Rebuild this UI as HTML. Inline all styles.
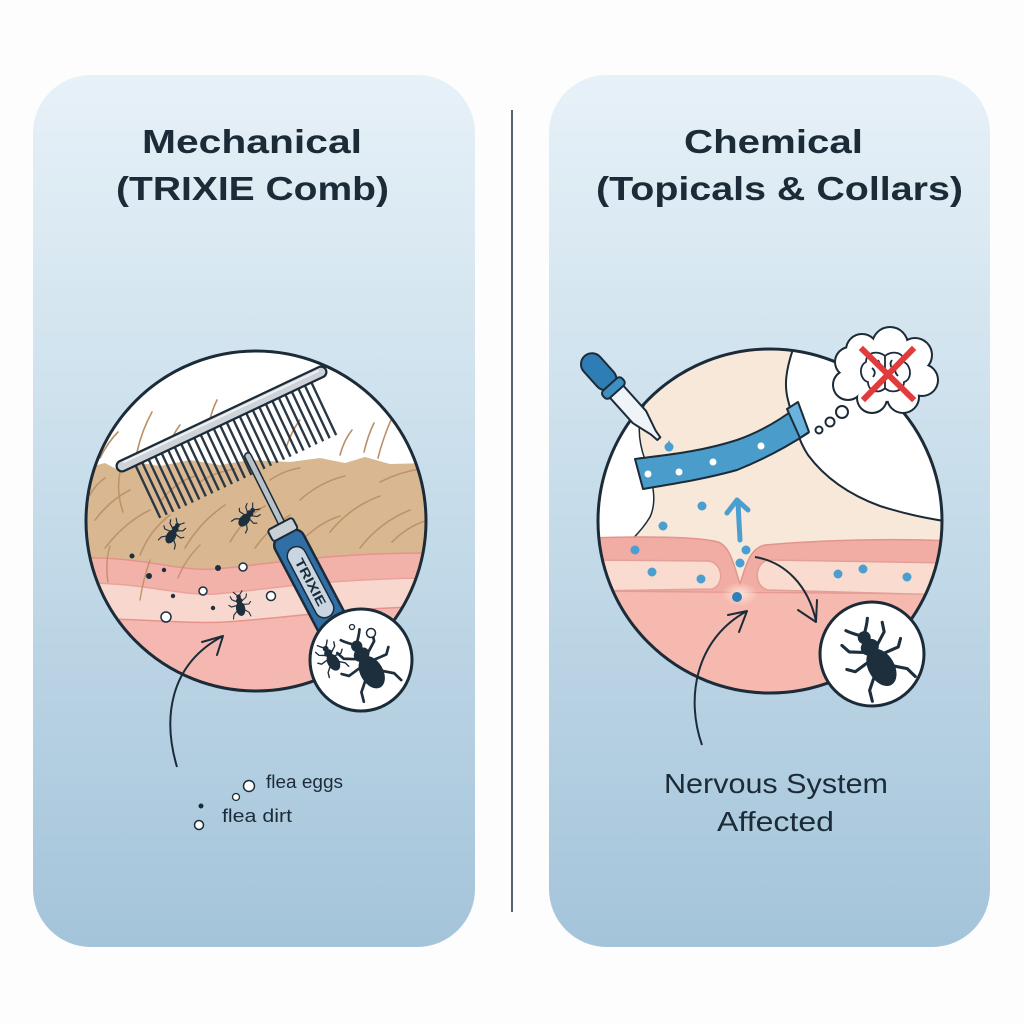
<!DOCTYPE html>
<html><head><meta charset="utf-8"><style>
html,body{margin:0;padding:0;background:#fff;}
svg{display:block;}
text{font-family:"Liberation Sans",sans-serif;fill:#1c2b38;}
</style></head><body>
<svg width="1024" height="1024" viewBox="0 0 1024 1024" xmlns="http://www.w3.org/2000/svg">
<defs>
<linearGradient id="pg" x1="0" y1="0" x2="0" y2="1">
<stop offset="0" stop-color="#e7f1f8"/>
<stop offset="0.45" stop-color="#c9deeb"/>
<stop offset="1" stop-color="#a4c4da"/>
</linearGradient>
<radialGradient id="glow" cx="0.5" cy="0.5" r="0.5">
<stop offset="0" stop-color="#fde3da"/>
<stop offset="1" stop-color="#fde3da" stop-opacity="0"/>
</radialGradient>
<clipPath id="cL"><circle cx="256" cy="521" r="170"/></clipPath>
<clipPath id="cR"><circle cx="770" cy="521" r="172"/></clipPath>
<g id="flea">
<ellipse cx="0" cy="3.5" rx="4.2" ry="6.5" fill="#1d2e3d"/>
<ellipse cx="0" cy="-4" rx="3" ry="2.6" fill="#1d2e3d"/>
<circle cx="0" cy="-7.6" r="2.1" fill="#1d2e3d"/>
<path d="M-2.5,-3.5 L-6.5,-6 L-7.5,-9 M2.5,-3.5 L6.5,-6 L7.5,-9 M-3.5,0 L-8,0.5 L-10,-1.5 M3.5,0 L8,0.5 L10,-1.5 M-3,4.5 L-7,8 L-8,11.5 M3,4.5 L7,8 L8,11.5 M-1,-9 Q-3,-11 -4,-12.5 M1,-9 Q3,-11 4,-12.5" fill="none" stroke="#1d2e3d" stroke-width="1" stroke-linecap="round" stroke-linejoin="round"/>
</g>
</defs>

<rect width="1024" height="1024" fill="#fdfdfd"/>
<rect x="33" y="75" width="442" height="872" rx="58" fill="url(#pg)"/>
<rect x="549" y="75" width="441" height="872" rx="58" fill="url(#pg)"/>
<line x1="512" y1="110" x2="512" y2="912" stroke="#2c3e50" stroke-width="1.6"/>

<!-- Titles -->
<text x="142" y="153" font-size="33" font-weight="bold" textLength="220" lengthAdjust="spacingAndGlyphs">Mechanical</text>
<text x="116" y="200" font-size="33" font-weight="bold" textLength="273" lengthAdjust="spacingAndGlyphs">(TRIXIE Comb)</text>
<text x="684" y="153" font-size="33" font-weight="bold" textLength="179" lengthAdjust="spacingAndGlyphs">Chemical</text>
<text x="596" y="200" font-size="33" font-weight="bold" textLength="367" lengthAdjust="spacingAndGlyphs">(Topicals &amp; Collars)</text>

<!-- ================= LEFT CIRCLE ================= -->
<g clip-path="url(#cL)">
<rect x="80" y="345" width="360" height="360" fill="#ffffff"/>
<g fill="none" stroke="#bb8e66" stroke-width="1.6" stroke-linecap="round">
<path d="M137,452 Q142,430 152,412"/>
<path d="M208,428 Q211,412 217,400"/>
<path d="M364,452 Q368,435 374,423"/>
<path d="M378,458 Q383,438 391,420"/>
<path d="M100,458 Q108,442 118,432"/>
<path d="M286,448 Q292,430 300,420"/>
<path d="M340,455 Q344,440 352,430"/>
<path d="M168,450 Q172,435 180,425"/>
</g>
<path d="M80,468 L85,468 L105,463 L118,470 L135,462 L160,466 L190,460 L220,465 L250,460 L290,462 L320,458 L345,463 L365,457 L390,464 L430,463 L440,463 L440,575 L80,575 Z" fill="#d9b891"/>
<g fill="none" stroke="#bb8e66" stroke-width="1.6" stroke-linecap="round" opacity="0.9">
<path d="M95,520 Q110,500 130,490"/>
<path d="M105,548 Q125,522 150,510"/>
<path d="M140,555 Q150,530 170,515"/>
<path d="M185,548 Q200,522 225,505"/>
<path d="M200,482 Q215,472 235,469"/>
<path d="M255,548 Q270,527 290,515"/>
<path d="M300,500 Q320,482 345,476"/>
<path d="M330,532 Q350,507 380,496"/>
<path d="M360,548 Q380,522 410,510"/>
<path d="M380,482 Q400,472 420,469"/>
<path d="M120,472 Q116,492 123,512"/>
<path d="M160,502 Q175,482 195,476"/>
<path d="M230,542 Q245,517 265,506"/>
<path d="M300,542 Q320,522 340,516"/>
<path d="M392,542 Q407,527 425,521"/>
<path d="M270,480 Q285,470 300,468"/>
<path d="M90,495 Q95,485 105,478"/>
</g>
<path d="M80,558 C140,556 180,572 215,569 C260,566 320,552 440,553 L440,710 L80,710 Z" fill="#f2b1a9" stroke="#e6938d" stroke-width="1.5"/>
<path d="M80,583 C140,582 180,596 215,594 C260,591 320,578 440,578 L440,710 L80,710 Z" fill="#f8d7ce" stroke="#e9a39c" stroke-width="1.5"/>
<path d="M80,618 C140,619 190,624 225,622 C280,619 340,608 440,606 L440,710 L80,710 Z" fill="#f5b8b0" stroke="#e6938d" stroke-width="1.5"/>
<g fill="none" stroke="#bb8e66" stroke-width="1.5" stroke-linecap="round" opacity="0.85">
<path d="M140,600 Q143,580 150,560"/>
<path d="M178,578 Q185,560 200,545"/>
<path d="M108,582 Q105,562 110,546"/>
</g>
<g fill="#1d2e3d">
<circle cx="132" cy="556" r="2.5"/>
<circle cx="149" cy="576" r="3"/>
<circle cx="164" cy="570" r="2.2"/>
<circle cx="218" cy="568" r="3"/>
<circle cx="173" cy="596" r="2.2"/>
<circle cx="213" cy="608" r="2.2"/>
</g>
<g fill="#fff" stroke="#1d2e3d" stroke-width="1.5">
<circle cx="243" cy="567" r="4"/>
<circle cx="203" cy="591" r="4"/>
<circle cx="271" cy="596" r="4.5"/>
<circle cx="166" cy="617" r="5"/>
</g>
<use href="#flea" transform="translate(173,533) rotate(30) scale(1.15)"/>
<use href="#flea" transform="translate(247,517) rotate(40) scale(1.15)"/>
<use href="#flea" transform="translate(240,605) rotate(-10) scale(1.1)"/>
<line x1="146.8" y1="492.1" x2="328.9" y2="406.5" stroke="#2a3845" stroke-width="58" stroke-dasharray="2.4 4.8"/>
<line x1="122" y1="466" x2="321" y2="372" stroke="#1c2b38" stroke-width="13" stroke-linecap="round"/>
<line x1="122" y1="466" x2="321" y2="372" stroke="#cdd3d8" stroke-width="8.5" stroke-linecap="round"/>
<line x1="124" y1="462" x2="318" y2="371" stroke="#eef1f3" stroke-width="2" stroke-linecap="round"/>
<line x1="248" y1="456" x2="284" y2="528" stroke="#1c2b38" stroke-width="8" stroke-linecap="round"/>
<line x1="248" y1="456" x2="284" y2="528" stroke="#b9c2c9" stroke-width="5" stroke-linecap="round"/>
</g>
<circle cx="256" cy="521" r="170" fill="none" stroke="#1c2b38" stroke-width="3"/>

<g transform="translate(283,530) rotate(-27.8)">
<rect x="-16" y="4" width="32" height="118" rx="10" fill="#2f6fa6" stroke="#1c2b38" stroke-width="2.5"/>
<rect x="-14" y="-7" width="28" height="13" rx="3" fill="#c9d0d6" stroke="#1c2b38" stroke-width="2"/>
<rect x="-9.5" y="20" width="19" height="78" rx="9.5" fill="#c9d6e2" stroke="#1c2b38" stroke-width="1.5"/>
<text x="0" y="0" font-size="13" font-weight="bold" text-anchor="middle" transform="translate(-4.5,59) rotate(90)" textLength="52" lengthAdjust="spacingAndGlyphs">TRIXIE</text>
</g>

<circle cx="361" cy="660" r="51" fill="#fff" stroke="#1c2b38" stroke-width="3"/>
<use href="#flea" transform="translate(367,664) rotate(-30) scale(2.7)"/>
<use href="#flea" transform="translate(331,658) rotate(-30) scale(1.4)"/>
<circle cx="371" cy="633" r="4.5" fill="#fff" stroke="#1c2b38" stroke-width="1.5"/>
<circle cx="352" cy="627" r="2.5" fill="#fff" stroke="#1c2b38" stroke-width="1.3"/>

<path d="M177,767 C163,720 168,665 223,636" fill="none" stroke="#1c2b38" stroke-width="2"/>
<polyline points="202,642 223,636 217,655" fill="none" stroke="#1c2b38" stroke-width="2" stroke-linejoin="round" stroke-linecap="round"/>

<circle cx="249" cy="786" r="5.5" fill="#fff" stroke="#1c2b38" stroke-width="1.5"/>
<circle cx="236" cy="797" r="3.5" fill="#fff" stroke="#1c2b38" stroke-width="1.3"/>
<circle cx="201" cy="806" r="2.5" fill="#1c2b38"/>
<circle cx="199" cy="825" r="4.5" fill="#fff" stroke="#1c2b38" stroke-width="1.5"/>
<text x="266" y="788" font-size="18" textLength="77" lengthAdjust="spacingAndGlyphs">flea eggs</text>
<text x="222" y="822" font-size="18" textLength="70" lengthAdjust="spacingAndGlyphs">flea dirt</text>

<!-- ================= RIGHT CIRCLE ================= -->
<g clip-path="url(#cR)">
<rect x="595" y="345" width="352" height="352" fill="#f8e8d9"/>
<path d="M580,399 L647,399 C636,420 638,440 645,460 C652,480 658,500 650,517 C644,527 638,533 630,542 L580,542 Z" fill="#fff" stroke="#1c2b38" stroke-width="1.5"/>
<path d="M793,340 L793,349 C786,370 784,385 788,400 C793,420 798,440 808,455 C825,478 850,495 880,506 C905,514 925,518 950,522 L950,340 Z" fill="#fff" stroke="#1c2b38" stroke-width="2"/>
<path d="M590,538 C650,536 700,537 718,542 C730,546 734,565 740,584 C746,565 750,548 765,545 C820,540 900,538 950,541 L950,720 L590,720 Z" fill="#f1ada3" stroke="#e2958c" stroke-width="1.5"/>
<rect x="590" y="591" width="360" height="130" fill="#f5b9af"/>
<line x1="590" y1="591" x2="950" y2="594" stroke="#e59b93" stroke-width="1.5"/>
<ellipse cx="740" cy="594" rx="18" ry="12" fill="url(#glow)"/>
<path d="M590,560 L708,561 C722,562 726,584 712,589 L590,591 Z" fill="#f9dccf" stroke="#e3a098" stroke-width="1.5"/>
<path d="M950,563 L770,560 C755,560 752,586 768,590 L950,595 Z" fill="#f9dccf" stroke="#e3a098" stroke-width="1.5"/>
<g fill="#4a9fd0">
<circle cx="702" cy="506" r="4.5"/>
<circle cx="663" cy="526" r="4.5"/>
<circle cx="635" cy="550" r="4.5"/>
<circle cx="652" cy="572" r="4.5"/>
<circle cx="701" cy="579" r="4.5"/>
<circle cx="746" cy="550" r="4.5"/>
<circle cx="740" cy="563" r="4.5"/>
<circle cx="737" cy="597" r="5" fill="#2f7fb8"/>
<circle cx="838" cy="574" r="4.5"/>
<circle cx="863" cy="569" r="4.5"/>
<circle cx="907" cy="577" r="4.5"/>
</g>
<line x1="740" y1="540" x2="738" y2="503" stroke="#4a9fd0" stroke-width="5" stroke-linecap="round"/>
<polyline points="727,513 737,500 748,510" fill="none" stroke="#4a9fd0" stroke-width="5" stroke-linecap="round" stroke-linejoin="round"/>
</g>
<circle cx="770" cy="521" r="172" fill="none" stroke="#1c2b38" stroke-width="3"/>

<path d="M635,459 C665,455 700,452 737,440 C760,432 780,420 797,407 L808,433 C785,448 762,460 737,470 C705,479 672,484 643,489 Z" fill="#4a9dcb" stroke="#1c2b38" stroke-width="2" stroke-linejoin="round"/>
<path d="M787,409 L798,402 L809,432 L800,438 Z" fill="#6ab3dc" stroke="#1c2b38" stroke-width="2" stroke-linejoin="round"/>
<g fill="#fff">
<circle cx="648" cy="474" r="3.5"/>
<circle cx="679" cy="472" r="3.5"/>
<circle cx="713" cy="462" r="3.5"/>
<circle cx="761" cy="446" r="3.5"/>
</g>

<g transform="translate(590,362) rotate(-41.9)">
<path d="M-9,39 L9,39 L9,74 L3,95 L2,103 L-2,103 L-3,95 L-9,74 Z" fill="#eef4f8" stroke="#1c2b38" stroke-width="2" stroke-linejoin="round"/>
<rect x="-11" y="-8" width="22" height="42" rx="11" fill="#2f7db5" stroke="#1c2b38" stroke-width="2"/>
<rect x="-13" y="30" width="26" height="10" rx="4" fill="#3e8fc2" stroke="#1c2b38" stroke-width="2"/>
</g>
<path d="M669,440 C672,446 674,449 669,451 C664,449 666,446 669,440 Z" fill="#4a9fd0"/>
<circle cx="669" cy="447" r="4.5" fill="#4a9fd0"/>

<g fill="#fff" stroke="#1c2b38" stroke-width="4">
<circle cx="890" cy="345" r="17"/>
<circle cx="862" cy="350" r="15"/>
<circle cx="915" cy="355" r="16"/>
<circle cx="922" cy="380" r="15"/>
<circle cx="903" cy="397" r="15"/>
<circle cx="872" cy="398" r="14"/>
<circle cx="848" cy="385" r="14"/>
<circle cx="850" cy="362" r="14"/>
</g>
<g fill="#fff">
<circle cx="890" cy="345" r="17"/>
<circle cx="862" cy="350" r="15"/>
<circle cx="915" cy="355" r="16"/>
<circle cx="922" cy="380" r="15"/>
<circle cx="903" cy="397" r="15"/>
<circle cx="872" cy="398" r="14"/>
<circle cx="848" cy="385" r="14"/>
<circle cx="850" cy="362" r="14"/>
<circle cx="885" cy="373" r="28"/>
</g>
<path d="M885,356 C878,350 866,352 866,362 C858,366 860,380 868,382 C868,392 880,394 885,388 C890,394 904,392 904,382 C912,380 912,366 904,362 C904,352 892,350 885,356 Z M885,356 L885,388 M872,368 Q877,372 873,377 M897,366 Q893,371 898,376 M878,360 Q881,364 878,368 M892,360 Q889,364 892,368" fill="none" stroke="#1c2b38" stroke-width="1.8" stroke-linejoin="round"/>
<line x1="863" y1="350" x2="912" y2="398" stroke="#e23b3b" stroke-width="6" stroke-linecap="square"/>
<line x1="912" y1="350" x2="865" y2="398" stroke="#e23b3b" stroke-width="6" stroke-linecap="square"/>
<circle cx="842" cy="412" r="6" fill="#fff" stroke="#1c2b38" stroke-width="2"/>
<circle cx="830" cy="422" r="4.5" fill="#fff" stroke="#1c2b38" stroke-width="2"/>
<circle cx="819" cy="430" r="3.5" fill="#fff" stroke="#1c2b38" stroke-width="2"/>

<path d="M755,557 C785,562 808,585 816,621" fill="none" stroke="#1c2b38" stroke-width="2"/>
<polyline points="798,610 816,622 817,600" fill="none" stroke="#1c2b38" stroke-width="2" stroke-linejoin="round" stroke-linecap="round"/>
<path d="M702,745 C686,700 694,640 747,611" fill="none" stroke="#1c2b38" stroke-width="2"/>
<polyline points="728,615 747,611 739,632" fill="none" stroke="#1c2b38" stroke-width="2" stroke-linejoin="round" stroke-linecap="round"/>

<circle cx="872" cy="654" r="52" fill="#fff" stroke="#1c2b38" stroke-width="3"/>
<use href="#flea" transform="translate(876,658) rotate(-30) scale(3.1)"/>

<text x="664" y="793" font-size="28" textLength="224" lengthAdjust="spacingAndGlyphs">Nervous System</text>
<text x="717" y="831" font-size="28" textLength="117" lengthAdjust="spacingAndGlyphs">Affected</text>
</svg>
</body></html>
